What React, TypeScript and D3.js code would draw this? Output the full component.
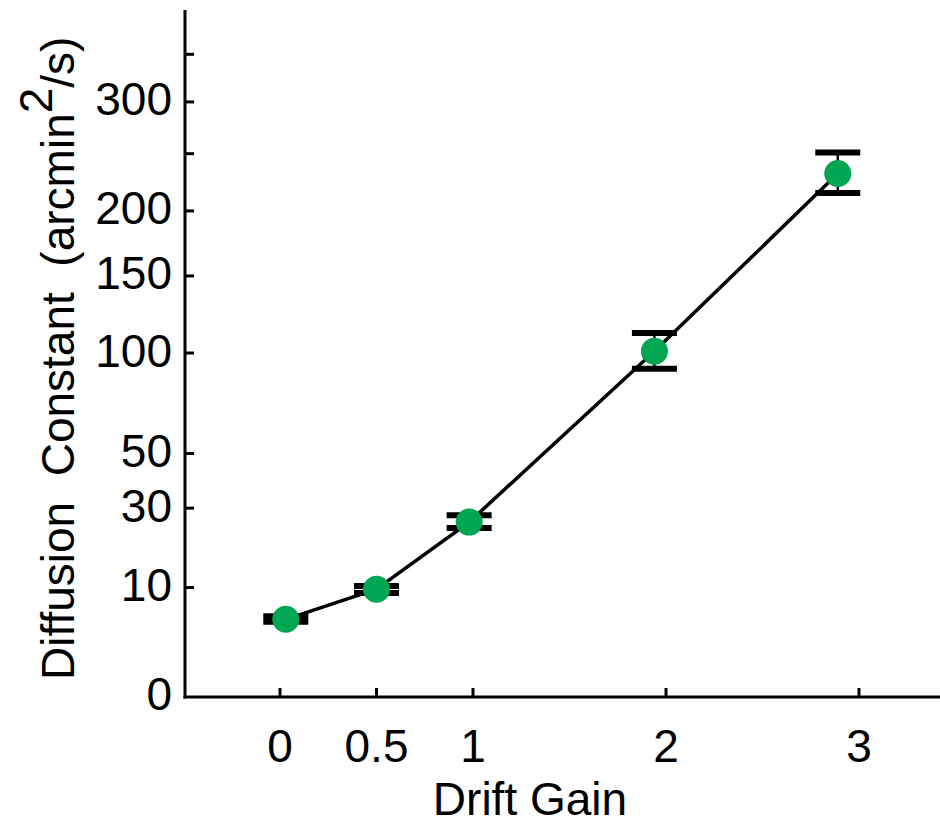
import * as d3 from "d3";

// data
const gains = [0.03, 0.5, 0.98, 1.94, 2.89];
const diffusion = [5.0, 9.7, 25.7, 101, 232];
const errLow = [4.7, 9.0, 24.0, 91, 215];
const errHigh = [5.4, 10.3, 27.8, 112, 251];

const xTicks = [0, 0.5, 1, 2, 3];
const xTickLabels = ["0", "0.5", "1", "2", "3"];
const yTicks = [0, 10, 30, 50, 100, 150, 200, 300];
const yMinorTicks = [250, 350];

const W = 940, H = 825;
const FONT = "'Liberation Sans', Arial, sans-serif";

export default function App() {
  const x = d3.scaleLinear().domain([0, 1]).range([280, 473]);
  const y = d3.scaleSqrt().domain([0, 400]).range([696, 10]);

  const pts = gains.map((g, i) => ({ g, v: diffusion[i], lo: errLow[i], hi: errHigh[i] }));
  const line = d3.line<typeof pts[0]>().x(d => x(d.g)).y(d => y(d.v));

  const axisX0 = 185;
  const axisY0 = y(0) + 1;
  const capW = 45;

  return (
    <svg width={W} height={H} style={{ position: "absolute", left: 0, top: 0, background: "#fff" }}>
      {/* axes */}
      <line x1={axisX0} x2={axisX0} y1={y(400)} y2={axisY0 + 1.5} stroke="#000" strokeWidth={3} />
      <line x1={axisX0 - 1.5} x2={W} y1={axisY0} y2={axisY0} stroke="#000" strokeWidth={3} />

      {yTicks.concat(yMinorTicks).filter(t => t > 0).map(t => (
        <line key={"yt" + t} x1={axisX0} x2={axisX0 + 9} y1={y(t)} y2={y(t)} stroke="#000" strokeWidth={3} />
      ))}
      {yTicks.map(t => (
        <text key={"yl" + t} x={172} y={y(t) - 3} dy="0.36em" textAnchor="end"
          fontFamily={FONT} fontSize={46} fill="#000">{t}</text>
      ))}

      {xTicks.map((t, i) => (
        <g key={"xt" + t}>
          <line x1={x(t)} x2={x(t)} y1={axisY0} y2={axisY0 - 9} stroke="#000" strokeWidth={3} />
          <text x={x(t)} y={762} textAnchor="middle" fontFamily={FONT} fontSize={46} fill="#000">
            {xTickLabels[i]}
          </text>
        </g>
      ))}

      <text x={530} y={815} textAnchor="middle" fontFamily={FONT} fontSize={46} fill="#000">Drift Gain</text>

      <text transform="translate(74,680) rotate(-90)" fontFamily={FONT} fontSize={46} fill="#000"
        style={{ whiteSpace: "pre" }}>
        <tspan>{"Diffusion  Constant  (arcmin"}</tspan>
        <tspan dy={-22}>2</tspan>
        <tspan dy={22}>{"/s)"}</tspan>
      </text>

      {/* data line */}
      <path d={line(pts) || ""} fill="none" stroke="#000" strokeWidth={3.5} />

      {/* error bars */}
      {pts.map((d, i) => (
        <g key={"e" + i}>
          <line x1={x(d.g)} x2={x(d.g)} y1={y(d.lo)} y2={y(d.hi)} stroke="#000" strokeWidth={2.5} />
          <line x1={x(d.g) - capW / 2} x2={x(d.g) + capW / 2} y1={y(d.lo)} y2={y(d.lo)} stroke="#000" strokeWidth={6} />
          <line x1={x(d.g) - capW / 2} x2={x(d.g) + capW / 2} y1={y(d.hi)} y2={y(d.hi)} stroke="#000" strokeWidth={6} />
        </g>
      ))}

      {/* markers */}
      {pts.map((d, i) => (
        <circle key={"p" + i} cx={x(d.g)} cy={y(d.v)} r={13.5} fill="#00a651" />
      ))}
    </svg>
  );
}
